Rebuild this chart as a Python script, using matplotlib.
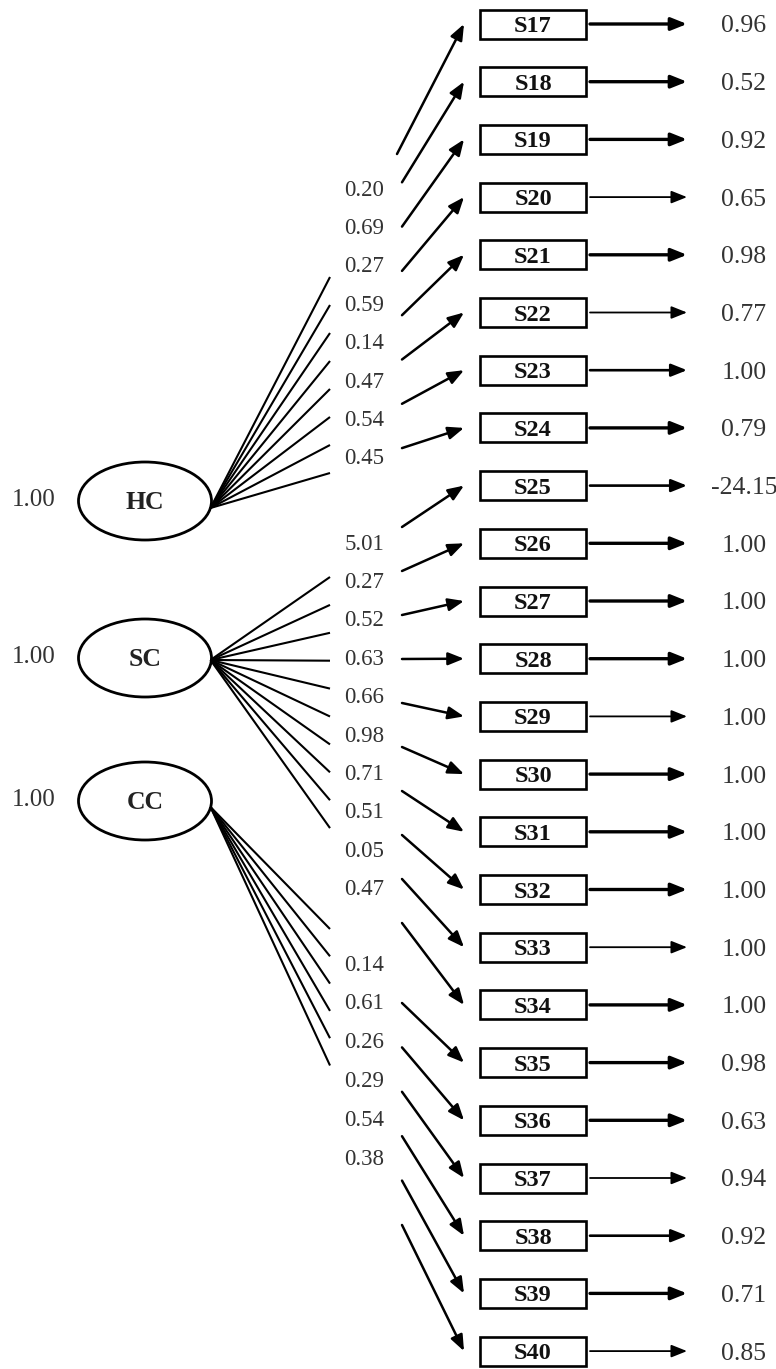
import matplotlib
matplotlib.use("Agg")
import matplotlib.pyplot as plt
from matplotlib.patches import Ellipse, Rectangle

# ---------------- data ----------------
factors = ["HC", "SC", "CC"]
factor_variances = [1.00, 1.00, 1.00]
items = ["S%d" % n for n in range(17, 41)]
loadings_hc = [0.20, 0.69, 0.27, 0.59, 0.14, 0.47, 0.54, 0.45]
loadings_sc = [5.01, 0.27, 0.52, 0.63, 0.66, 0.98, 0.71, 0.51, 0.05, 0.47]
loadings_cc = [0.14, 0.61, 0.26, 0.29, 0.54, 0.38]
error_variances = [0.96, 0.52, 0.92, 0.65, 0.98, 0.77, 1.00, 0.79, -24.15,
                   1.00, 1.00, 1.00, 1.00, 1.00, 1.00, 1.00, 1.00, 1.00,
                   0.98, 0.63, 0.94, 0.92, 0.71, 0.85]

# ---------------- layout ----------------
W, H = 776, 1369
fig = plt.figure(figsize=(W / 100, H / 100), dpi=100)
ax = fig.add_axes([0, 0, 1, 1])
ax.set_xlim(0, W)
ax.set_ylim(H, 0)
ax.axis("off")

SERIF = ["Liberation Serif", "DejaVu Serif"]
PX = 100 / 72.0  # pixels per point


def label(x, y, s, size, bold=False, color="#333333"):
    # vertically centre the digits/capitals (cap height ~0.66 em)
    ax.text(x, y + 0.33 * size * PX, s, ha="center", va="baseline",
            fontsize=size, fontweight="bold" if bold else "normal",
            family=SERIF, color=color)


box_y0, box_dy = 24.0, 57.7
box_x0, box_x1, box_h = 480, 586, 29
box_cy = [box_y0 + box_dy * i for i in range(len(items))]

ell_cx = 145
ell_cy = [501, 658, 801]
ell_w, ell_h = 133, 78
conv_dy = [7, 2, 6]

groups = [loadings_hc, loadings_sc, loadings_cc]
label_y0 = [188, 542, 963]
label_dy = [38.4, 38.4, 38.8]
label_x = 364
left_end_x = 330
left_y0 = [277, 577, 929]
left_dy = [28.0, 27.9, 27.3]
right_x = 402
right_y0 = [138, 527, 1003]
right_dy = [44.3, 44.0, 44.4]
tip_x = 464

err_lw = [2.4, 2.4, 2.4, 1.3, 2.4, 1.3, 1.9, 2.4, 1.9, 2.4, 2.4, 2.4,
          1.3, 2.4, 2.4, 2.4, 1.3, 2.4, 2.4, 2.4, 1.3, 1.9, 2.4, 1.3]

arrow_style = "-|>,head_length=0.95,head_width=0.38"

# factors
for f, (name, var) in enumerate(zip(factors, factor_variances)):
    cy = ell_cy[f]
    ax.add_patch(Ellipse((ell_cx, cy), ell_w, ell_h, fill=False,
                         lw=2.0, ec="black", zorder=3))
    label(ell_cx, cy, name, 18.5, bold=True, color="#222222")
    label(34, cy - 3, "%.2f" % var, 18)

# loadings
item_idx = 0
for f, loads in enumerate(groups):
    cx0 = ell_cx + ell_w / 2 - 1
    cy0 = ell_cy[f] + conv_dy[f]
    for k, val in enumerate(loads):
        ly = left_y0[f] + left_dy[f] * k
        ax.plot([cx0, left_end_x], [cy0, ly], color="black", lw=1.5,
                solid_capstyle="butt")
        label(label_x, label_y0[f] + label_dy[f] * k, "%.2f" % val, 16.5)
        sy = right_y0[f] + right_dy[f] * k
        sx = right_x
        if f == 0 and k == 0:
            sy, sx = 154, 397
        ax.annotate("", xy=(tip_x, box_cy[item_idx]), xytext=(sx, sy),
                    arrowprops=dict(arrowstyle=arrow_style, lw=1.8,
                                    color="black", shrinkA=0, shrinkB=0,
                                    mutation_scale=10))
        item_idx += 1

# indicators and error variances
for i, (name, ev) in enumerate(zip(items, error_variances)):
    cy = box_cy[i]
    ax.add_patch(Rectangle((box_x0, cy - box_h / 2), box_x1 - box_x0, box_h,
                           fill=False, lw=1.9, ec="black", zorder=3))
    label((box_x0 + box_x1) / 2, cy, name, 17.5, bold=True, color="#111111")
    ax.annotate("", xy=(687, cy), xytext=(590, cy),
                arrowprops=dict(arrowstyle=arrow_style, lw=err_lw[i],
                                color="black", shrinkA=0, shrinkB=0,
                                mutation_scale=10))
    label(744, cy, "%.2f" % ev, 18.5)

fig.savefig("out.png", dpi=100)
